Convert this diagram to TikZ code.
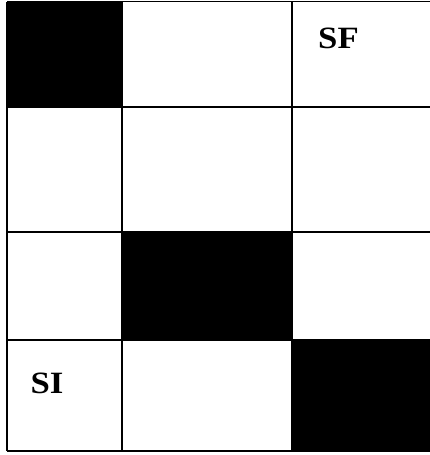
\documentclass[tikz,border=0pt]{standalone}
\usepackage{fontspec}
\setmainfont{Liberation Serif}
\begin{document}
\begin{tikzpicture}[x=1pt,y=-1pt,
  gridline/.style={draw=black,line width=1.8pt},
  darkcell/.style={fill=black},
  celllabel/.style={inner sep=0pt,font=\fontsize{31}{31}\selectfont\bfseries}]
\useasboundingbox (0,0) rectangle (430,455);
\fill[white] (0,0) rectangle (430,455);
\begin{scope}
\clip (0,0) rectangle (430,455);
\fill[darkcell] (7,1.5) rectangle (122,107);
\fill[darkcell] (122,232) rectangle (292,340);
\fill[darkcell] (292,340) rectangle (440,451);
\foreach \x in {7,122,292} \draw[gridline] (\x,1.5) -- (\x,451);
\foreach \y in {1.5,107,232,340,451} \draw[gridline] (7,\y) -- (440,\y);
\end{scope}
\node[celllabel,xscale=1.12] (sf) at (338.5,38.5) {SF};
\node[celllabel,xscale=1.12] (si) at (47,383.5) {SI};
\end{tikzpicture}
\end{document}
